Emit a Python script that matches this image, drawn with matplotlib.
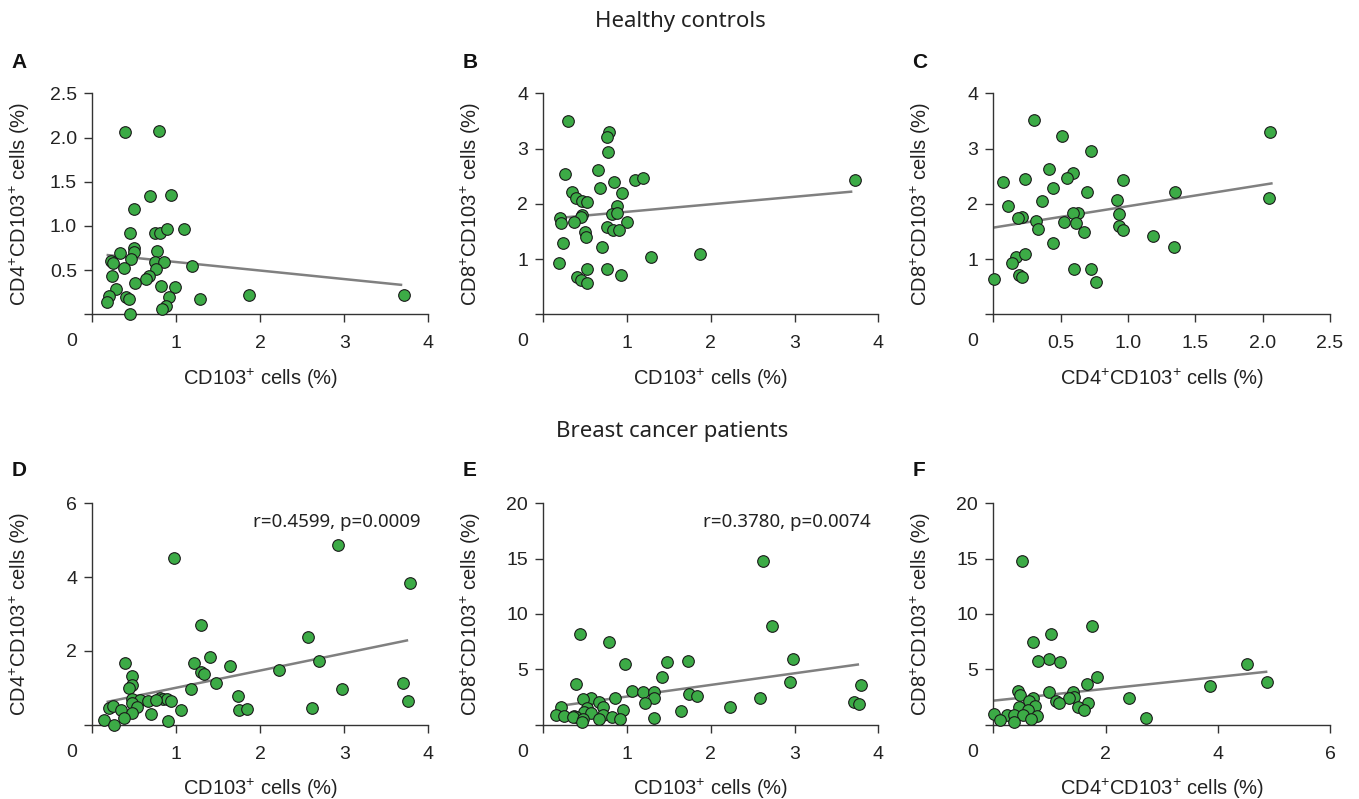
import numpy as np
import matplotlib
matplotlib.use("Agg")
import matplotlib.pyplot as plt

plt.rcParams['font.family'] = ['Liberation Sans', 'DejaVu Sans']
plt.rcParams['mathtext.default'] = 'regular'

# ---- healthy controls ----
a_x = [0.388, 0.795, 0.685, 0.934, 0.499, 0.447, 0.752, 0.803, 0.890, 1.088,
       0.499, 0.495, 0.328, 0.776, 0.455, 0.222, 0.249, 0.752, 0.851, 0.376,
       0.756, 1.183, 0.230, 0.677, 0.645, 0.507, 0.277, 0.823, 0.989, 0.194,
       0.400, 0.439, 0.914, 1.278, 1.864, 3.716, 0.174, 0.882, 0.835, 0.451]
a_y = [2.058, 2.077, 1.338, 1.349, 1.187, 0.916, 0.923, 0.923, 0.961, 0.969,
       0.746, 0.701, 0.697, 0.716, 0.622, 0.603, 0.584, 0.596, 0.592, 0.520,
       0.509, 0.550, 0.437, 0.433, 0.396, 0.358, 0.286, 0.320, 0.305, 0.211,
       0.192, 0.173, 0.192, 0.170, 0.219, 0.219, 0.136, 0.098, 0.064, 0.0]
a_fit_x = [0.17, 3.69]
a_fit_y = [0.671, 0.332]

b_x = [0.289, 0.787, 0.764, 0.776, 0.653, 0.265, 0.677, 0.843, 1.096, 1.191,
       0.340, 0.942, 0.388, 0.467, 0.526, 0.882, 0.467, 0.455, 0.815, 0.875,
       0.198, 0.210, 0.368, 1.001, 0.764, 0.835, 0.902, 0.495, 0.514, 0.237,
       0.704, 1.286, 1.872, 3.724, 0.182, 0.518, 0.756, 0.930, 0.408, 0.455,
       0.518]
b_y = [3.506, 3.307, 3.217, 2.945, 2.613, 2.535, 2.293, 2.396, 2.432, 2.462,
       2.209, 2.191, 2.100, 2.058, 2.040, 1.961, 1.798, 1.756, 1.810, 1.829,
       1.750, 1.648, 1.678, 1.666, 1.587, 1.527, 1.527, 1.485, 1.406, 1.285,
       1.213, 1.032, 1.098, 2.432, 0.935, 0.815, 0.815, 0.712, 0.670, 0.622,
       0.561]
b_fit_x = [0.27, 3.69]
b_fit_y = [1.756, 2.221]

c_x = [0.302, 0.512, 0.725, 2.057, 0.413, 0.594, 0.550, 0.069, 0.235, 0.965,
       0.443, 0.698, 1.349, 0.361, 0.921, 2.050, 0.109, 0.210, 0.186, 0.626,
       0.594, 0.933, 0.314, 0.527, 0.611, 0.334, 0.933, 0.965, 0.676, 1.188,
       0.446, 1.342, 0.168, 0.238, 0.141, 0.601, 0.725, 0.193, 0.210, 0.762,
       0.005]
c_y = [3.524, 3.229, 2.957, 3.307, 2.625, 2.553, 2.474, 2.390, 2.456, 2.438,
       2.293, 2.209, 2.209, 2.052, 2.064, 2.100, 1.967, 1.768, 1.738, 1.829,
       1.829, 1.817, 1.690, 1.672, 1.660, 1.551, 1.605, 1.527, 1.485, 1.424,
       1.285, 1.225, 1.044, 1.092, 0.935, 0.821, 0.821, 0.712, 0.682, 0.579,
       0.634]
c_fit_x = [0.0, 2.074]
c_fit_y = [1.569, 2.372]

# ---- breast cancer patients ----
d_x = [0.970, 2.924, 3.783, 1.298, 2.572, 1.405, 0.388, 1.211, 1.634, 2.703,
       2.228, 1.298, 1.326, 0.475, 1.476, 3.700, 0.467, 0.435, 1.171, 2.972,
       1.729, 3.763, 0.467, 0.566, 0.665, 0.811, 0.843, 0.890, 0.942, 0.764,
       0.467, 0.534, 0.202, 0.249, 0.340, 1.061, 1.745, 1.840, 2.616, 0.467,
       0.693, 0.380, 0.139, 0.902, 0.257]
d_y = [4.51, 4.87, 3.83, 2.70, 2.38, 1.84, 1.66, 1.67, 1.58, 1.73,
       1.49, 1.44, 1.37, 1.32, 1.14, 1.13, 1.07, 1.00, 0.96, 0.96,
       0.79, 0.64, 0.71, 0.66, 0.64, 0.73, 0.69, 0.71, 0.64, 0.68,
       0.59, 0.48, 0.45, 0.50, 0.41, 0.41, 0.41, 0.43, 0.46, 0.32,
       0.30, 0.19, 0.14, 0.09, 0.0]
d_fit_x = [0.17, 3.76]
d_fit_y = [0.615, 2.29]
d_stat = "r=0.4599, p=0.0009"

e_x = [2.624, 2.727, 0.439, 0.784, 0.981, 1.476, 1.733, 2.980, 1.417, 2.940,
       0.388, 3.799, 1.061, 1.187, 1.326, 1.741, 1.832, 1.318, 0.851, 0.574,
       0.479, 0.665, 2.584, 1.219, 3.712, 3.771, 2.228, 0.716, 0.210, 0.526,
       0.950, 1.642, 0.487, 0.566, 0.716, 0.150, 0.249, 0.368, 0.388, 0.823,
       0.356, 0.479, 0.665, 0.910, 1.318, 0.467]
e_y = [14.79, 8.95, 8.16, 7.50, 5.45, 5.69, 5.75, 5.90, 4.34, 3.83,
       3.67, 3.58, 3.07, 2.98, 2.92, 2.74, 2.62, 2.38, 2.38, 2.38,
       2.32, 2.08, 2.38, 1.93, 2.02, 1.84, 1.63, 1.63, 1.63, 1.54,
       1.33, 1.27, 1.17, 1.08, 0.87, 0.87, 0.78, 0.78, 0.66, 0.72,
       0.66, 0.48, 0.48, 0.48, 0.57, 0.21]
e_fit_x = [0.27, 3.77]
e_fit_y = [1.78, 5.45]
e_stat = "r=0.3780, p=0.0074"

f_x = [0.505, 1.759, 1.028, 0.713, 0.998, 0.802, 1.188, 4.516, 1.854, 1.664,
       3.862, 4.884, 0.434, 0.475, 0.998, 1.414, 1.438, 1.349, 0.713, 0.636,
       2.424, 1.111, 1.170, 1.693, 0.743, 0.463, 1.515, 1.616, 0.624, 0.018,
       0.238, 0.368, 0.523, 0.772, 0.671, 0.119, 0.368, 2.721]
f_y = [14.82, 8.95, 8.16, 7.47, 5.90, 5.75, 5.69, 5.45, 4.34, 3.64,
       3.52, 3.83, 3.07, 2.68, 2.98, 2.98, 2.53, 2.44, 2.44, 2.17,
       2.44, 2.17, 1.99, 1.93, 1.69, 1.63, 1.57, 1.33, 1.33, 0.93,
       0.84, 0.87, 0.87, 0.78, 0.48, 0.42, 0.27, 0.57]
f_fit_x = [0.0, 4.884]
f_fit_y = [2.17, 4.79]

lab_cd103 = "CD103$^{+}$ cells (%)"
lab_cd4 = "CD4$^{+}$CD103$^{+}$ cells (%)"
lab_cd8 = "CD8$^{+}$CD103$^{+}$ cells (%)"

W, H = 1359, 799
fig = plt.figure(figsize=(W / 100, H / 100), dpi=100)

axcol = '#333333'
txtcol = '#222222'
green = '#3cab46'
alt_font = ['Noto Sans', 'DejaVu Sans']


def panel(rect, x, y, fx, fy, xt, xtl, yt, ytl, xlab, ylab, letter, stat=None):
    l, t, r, b = rect
    ax = fig.add_axes([l / W, 1 - b / H, (r - l) / W, (b - t) / H])
    ax.plot(fx, fy, color='#808080', lw=1.8, zorder=2, solid_capstyle='butt')
    ax.scatter(x, y, s=70, color=green, edgecolor='#1a1a1a', linewidth=0.8,
               zorder=3, clip_on=False)
    ax.set_xlim(xt[0], xt[-1])
    ax.set_ylim(yt[0], yt[-1])
    ax.set_xticks(xt)
    ax.set_xticklabels([''] + xtl)
    ax.set_yticks(yt)
    ax.set_yticklabels([''] + ytl)
    for s in ['top', 'right']:
        ax.spines[s].set_visible(False)
    for s in ['left', 'bottom']:
        ax.spines[s].set_color(axcol)
        ax.spines[s].set_linewidth(1.0)
    ax.tick_params(colors=axcol, labelcolor=txtcol, labelsize=14,
                   length=6, width=1.0, direction='out')
    ax.tick_params(axis='x', pad=9)
    ax.tick_params(axis='y', pad=5)
    # origin label sits at the corner, left of the y axis
    ax.annotate('0', xy=(0, 0), xycoords='axes fraction', xytext=(-21, -19),
                textcoords='offset pixels', ha='center', va='top',
                fontsize=14, color=txtcol)
    ax.set_xlabel(xlab, fontsize=14.5, color=txtcol)
    ax.set_ylabel(ylab, fontsize=14.5, color=txtcol)
    ax.xaxis.set_label_coords(0.5, -0.237)
    ax.yaxis.set_label_coords(-60 / (r - l), 0.5)
    fig.text((l - 81) / W, 1 - 63 / H if t < 400 else 1 - 470 / H, letter,
             fontsize=15, fontweight='bold', ha='left', va='center',
             color='#111111')
    if stat:
        ax.text(0.977, 0.915, stat, transform=ax.transAxes, ha='right',
                va='center', fontsize=13.5, family=alt_font, color=txtcol)
    return ax


row1 = (93.3, 314.3)
row2 = (503.3, 724.7)
cols = [(92.3, 428.3), (543.3, 878.3), (993.3, 1330)]

panel((cols[0][0], row1[0], cols[0][1], row1[1]), a_x, a_y, a_fit_x, a_fit_y,
      [0, 1, 2, 3, 4], ['1', '2', '3', '4'],
      [0, 0.5, 1.0, 1.5, 2.0, 2.5], ['0.5', '1.0', '1.5', '2.0', '2.5'],
      lab_cd103, lab_cd4, 'A')
panel((cols[1][0], row1[0], cols[1][1], row1[1]), b_x, b_y, b_fit_x, b_fit_y,
      [0, 1, 2, 3, 4], ['1', '2', '3', '4'],
      [0, 1, 2, 3, 4], ['1', '2', '3', '4'],
      lab_cd103, lab_cd8, 'B')
panel((cols[2][0], row1[0], cols[2][1], row1[1]), c_x, c_y, c_fit_x, c_fit_y,
      [0, 0.5, 1.0, 1.5, 2.0, 2.5], ['0.5', '1.0', '1.5', '2.0', '2.5'],
      [0, 1, 2, 3, 4], ['1', '2', '3', '4'],
      lab_cd4, lab_cd8, 'C')
panel((cols[0][0], row2[0], cols[0][1], row2[1]), d_x, d_y, d_fit_x, d_fit_y,
      [0, 1, 2, 3, 4], ['1', '2', '3', '4'],
      [0, 2, 4, 6], ['2', '4', '6'],
      lab_cd103, lab_cd4, 'D', d_stat)
panel((cols[1][0], row2[0], cols[1][1], row2[1]), e_x, e_y, e_fit_x, e_fit_y,
      [0, 1, 2, 3, 4], ['1', '2', '3', '4'],
      [0, 5, 10, 15, 20], ['5', '10', '15', '20'],
      lab_cd103, lab_cd8, 'E', e_stat)
panel((cols[2][0], row2[0], cols[2][1], row2[1]), f_x, f_y, f_fit_x, f_fit_y,
      [0, 2, 4, 6], ['2', '4', '6'],
      [0, 5, 10, 15, 20], ['5', '10', '15', '20'],
      lab_cd4, lab_cd8, 'F')

fig.text(680 / W, 1 - 21 / H, "Healthy controls", ha='center', va='center',
         fontsize=16, family=alt_font, color=txtcol)
fig.text(672 / W, 1 - 432 / H, "Breast cancer patients", ha='center',
         va='center', fontsize=16, family=alt_font, color=txtcol)

fig.savefig("out.png", dpi=100)
